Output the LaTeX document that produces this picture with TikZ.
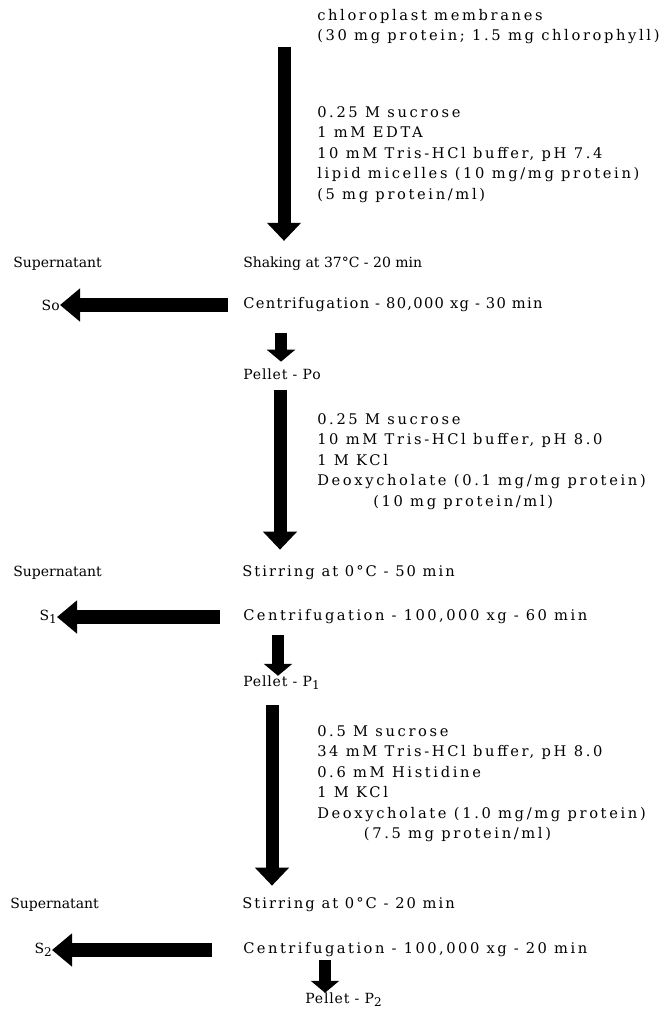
\documentclass[tikz,border=0pt]{standalone}
\usepackage{fontspec}
\setmainfont{DejaVu Serif}
\usetikzlibrary{arrows.meta, positioning}
\newcommand{\lowidx}[1]{\raisebox{-0.45ex}{\fontsize{9}{9}\selectfont #1}}
\tikzset{
	steptext/.style={
			anchor=west,
			inner sep=0pt,
			font=\fontsize{10.5}{15.4}\selectfont
		},
	labeltext/.style={
			anchor=west,
			inner sep=0pt,
			font=\fontsize{10.5}{15.4}\selectfont\addfontfeature{LetterSpace=6}
		},
	stirtext/.style={
			anchor=west,
			inner sep=0pt,
			font=\fontsize{11}{15.4}\selectfont\addfontfeature{LetterSpace=14}
		},
	spintext/.style={
			anchor=west,
			inner sep=0pt,
			font=\fontsize{11}{15.4}\selectfont\addfontfeature{LetterSpace=9}
		},
	widespintext/.style={
			spintext,
			font=\fontsize{11}{15.4}\selectfont\addfontfeature{LetterSpace=17}
		},
	mediumlist/.style={
			anchor=north west,
			inner sep=0pt,
			align=left,
			font=\fontsize{11}{15.4}\selectfont\addfontfeature{LetterSpace=18}
		},
	downarrow/.style={
			line width=9.75pt,
			-{Triangle[width=24.75pt,length=13.5pt]}
		},
	leftarrow/.style={
			line width=10.5pt,
			-{Triangle[width=24pt,length=15pt]}
		},
	pelletarrow/.style={
			line width=9pt,
			-{Triangle[width=21pt,length=9pt]}
		}
}

\begin{document}
\begin{tikzpicture}[x=0.75pt, y=-0.75pt]
\useasboundingbox (0,0) rectangle (665,1013);

% starting material and first medium
\node[mediumlist] (start) at (317,9) {chloroplast membranes\\(30 mg protein; 1.5 mg chlorophyll)};
\node[mediumlist] (medium0) at (317,106) {0.25 M sucrose\\1 mM EDTA\\10 mM Tris-HCl buffer, pH 7.4\\lipid micelles (10 mg/mg protein)\\(5 mg protein/ml)};

\node[steptext] (sup0) at (13,264) {Supernatant};
\node[steptext] (shake) at (243,264) {Shaking at 37°C - 20 min};
\node[spintext] (cent0) at (243,305) {Centrifugation - 80,000 xg - 30 min};
\node[steptext, anchor=east] (s0) at (60,305) {So};
\node[labeltext] (pel0) at (243,374) {Pellet - Po};

% second extraction
\node[mediumlist] (medium1) at (317,413) {0.25 M sucrose\\10 mM Tris-HCl buffer, pH 8.0\\1 M KCl\\Deoxycholate (0.1 mg/mg protein)\\\hspace*{42pt}(10 mg protein/ml)};

\node[steptext] (sup1) at (13,573) {Supernatant};
\node[stirtext] (stir1) at (242,573) {Stirring at 0°C - 50 min};
\node[widespintext] (cent1) at (243,617) {Centrifugation - 100,000 xg - 60 min};
\node[steptext, anchor=east] (s1) at (57,617) {S\lowidx{1}};
\node[labeltext] (pel1) at (243,683) {Pellet - P\lowidx{1}};

% third extraction
\node[mediumlist] (medium2) at (317,725) {0.5 M sucrose\\34 mM Tris-HCl buffer, pH 8.0\\0.6 mM Histidine\\1 M KCl\\Deoxycholate (1.0 mg/mg protein)\\\hspace*{35pt}(7.5 mg protein/ml)};

\node[steptext] (sup2) at (10,905) {Supernatant};
\node[stirtext] (stir2) at (242,905) {Stirring at 0°C - 20 min};
\node[widespintext] (cent2) at (243,950) {Centrifugation - 100,000 xg - 20 min};
\node[steptext, anchor=east] (s2) at (52,950) {S\lowidx{2}};
\node[labeltext] (pel2) at (305,1000) {Pellet - P\lowidx{2}};

% arrow tails
\coordinate (top0) at (284,47);
\coordinate (top1) at (280,390);
\coordinate (top2) at (272,705);
\coordinate (spin0) at (281,333);
\coordinate (spin1) at (278,635);
\coordinate (spin2) at (325,960);

\draw[downarrow] (top0) -- (top0 |- shake.north) [shorten >=12pt];
\draw[downarrow] (top1) -- (top1 |- stir1.north) [shorten >=12pt];
\draw[downarrow] (top2) -- (top2 |- stir2.north) [shorten >=9pt];

\draw[leftarrow, shorten <=11pt] (cent0.west) -- (s0.east);
\draw[leftarrow, shorten <=17pt] (cent1.west) -- (s1.east);
\draw[leftarrow, shorten <=23pt] (cent2.west) -- (s2.east);

\draw[pelletarrow] (spin0) -- (spin0 |- pel0.north) [shorten >=5pt];
\draw[pelletarrow] (spin1) -- (spin1 |- pel1.north);
\draw[pelletarrow] (spin2) -- (spin2 |- pel2.north);
\end{tikzpicture}
\end{document}
